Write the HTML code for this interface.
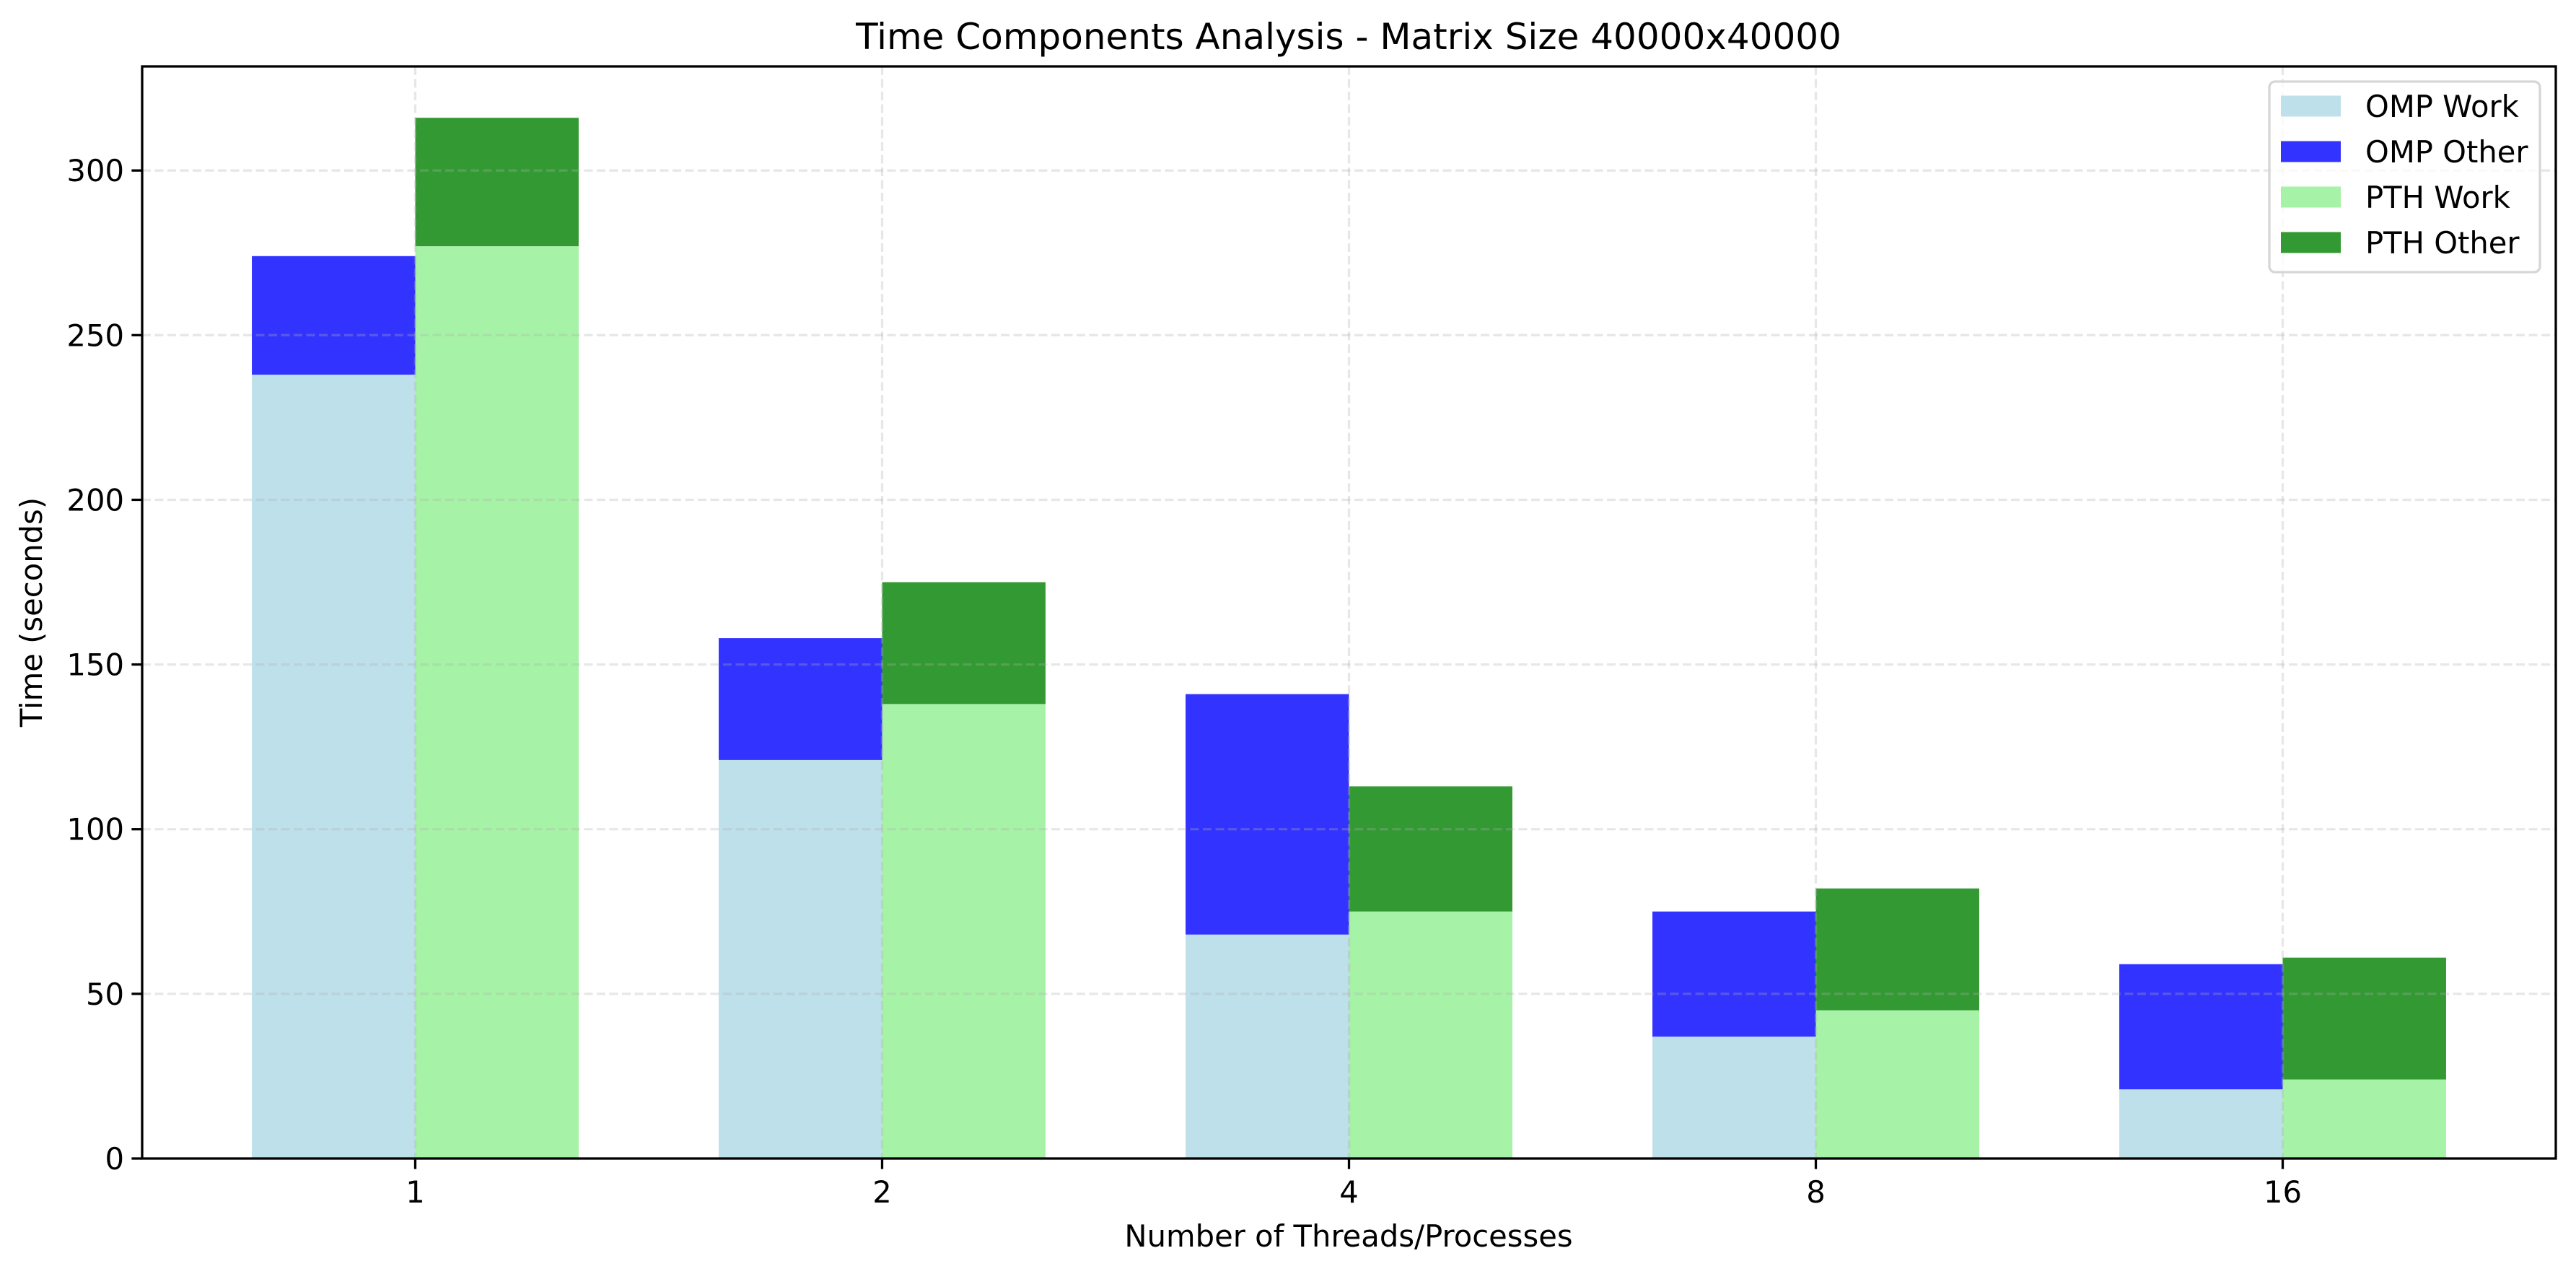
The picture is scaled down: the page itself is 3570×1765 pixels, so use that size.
<!DOCTYPE html>
<html><head><meta charset="utf-8"><style>
html,body{margin:0;padding:0;background:#fff;}
svg{display:block;font-family:"DejaVu Sans","Liberation Sans",sans-serif;}
</style></head><body>
<svg id="chart" width="3570" height="1765" viewBox="0 0 3570 1765" xmlns="http://www.w3.org/2000/svg">
<rect width="3570" height="1765" fill="#fff"/>
<text x="1869" y="68" font-size="50" text-anchor="middle">Time Components Analysis - Matrix Size 40000x40000</text>
<g id="grid"></g>
<g id="bars"></g>
<g id="gridtop"></g>
<g id="axes"></g>
<text x="1869" y="1727" font-size="41.7" text-anchor="middle">Number of Threads/Processes</text>
<text transform="translate(58,848) rotate(-90)" font-size="41.7" text-anchor="middle">Time (seconds)</text>
<g id="legend"></g>
</svg>
<script>
const categories = ["1","2","4","8","16"];
const ompWork = [238, 121, 68, 37, 21];
const ompTotal = [274, 158, 141, 75, 59];
const pthWork = [277, 138, 75, 45, 24];
const pthTotal = [316, 175, 113, 82, 61];
const yTicks = [0, 50, 100, 150, 200, 250, 300];
const seriesNames = ["OMP Work","OMP Other","PTH Work","PTH Other"];
const seriesColors = ["#bde0ea","#3333ff","#a6f2a6","#339933"];

const NS = "http://www.w3.org/2000/svg";
const L = 197, R = 3542, T = 92, B = 1605;
const yMax = 331.6;
const xMin = -0.585, xMax = 4.585, barW = 0.35;
function xs(v){ return L + (v - xMin) / (xMax - xMin) * (R - L); }
function ys(v){ return B - v / yMax * (B - T); }
function mk(tag, attrs, parent){
  const e = document.createElementNS(NS, tag);
  for (const k in attrs) e.setAttribute(k, attrs[k]);
  parent.appendChild(e); return e;
}
const grid = document.getElementById("gridtop");
const bars = document.getElementById("bars");
const axes = document.getElementById("axes");
const legend = document.getElementById("legend");

function rect(x0, x1, v0, v1, color, name){
  const r = mk("rect", {x: xs(x0), y: ys(v1), width: xs(x1) - xs(x0), height: ys(v0) - ys(v1), fill: color}, bars);
  
  
}
categories.forEach((c, i) => {
  rect(i - barW, i, 0, ompWork[i], seriesColors[0], "bar-omp-work-" + c);
  rect(i - barW, i, ompWork[i], ompTotal[i], seriesColors[1], "bar-omp-other-" + c);
  rect(i, i + barW, 0, pthWork[i], seriesColors[2], "bar-pth-work-" + c);
  rect(i, i + barW, pthWork[i], pthTotal[i], seriesColors[3], "bar-pth-other-" + c);
});
const gstyle = {stroke: "#b0b0b0", "stroke-opacity": 0.3, "stroke-width": 3.3, "stroke-dasharray": "12,5.5"};
yTicks.forEach(t => {
  if (t > 0) {
    const g = mk("line", Object.assign({x1: L, x2: R, y1: ys(t), y2: ys(t)}, gstyle), grid);
    
    
  }
  mk("line", {x1: L - 14.6, x2: L, y1: ys(t), y2: ys(t), stroke: "#000", "stroke-width": 3.3}, axes);
  const tx = mk("text", {x: L - 25, y: ys(t) + 15, "font-size": 41.7, "text-anchor": "end"}, axes);
  tx.textContent = t;
  
  
});
categories.forEach((c, i) => {
  const g = mk("line", Object.assign({x1: xs(i), x2: xs(i), y1: T, y2: B}, gstyle), grid);
  
  
  mk("line", {x1: xs(i), x2: xs(i), y1: B, y2: B + 14.6, stroke: "#000", "stroke-width": 3.3}, axes);
  const tx = mk("text", {x: xs(i), y: B + 61, "font-size": 41.7, "text-anchor": "middle"}, axes);
  tx.textContent = c;
  
  
});
const frame = mk("rect", {x: L, y: T, width: R - L, height: B - T, fill: "none", stroke: "#000", "stroke-width": 3.3}, axes);



mk("rect", {x: 3145, y: 113, width: 375, height: 264, rx: 8, fill: "#fff", "fill-opacity": 0.8, stroke: "#d6d6d6", "stroke-width": 3.3}, legend);
seriesNames.forEach((n, k) => {
  const cy = 147 + k * 63;
  const p = mk("rect", {x: 3161, y: cy - 14.5, width: 83, height: 29, fill: seriesColors[k]}, legend);
  
  
  const t = mk("text", {x: 3278, y: cy + 15, "font-size": 41.7}, legend);
  t.textContent = n;
  
  
});
</script>
</body></html>
